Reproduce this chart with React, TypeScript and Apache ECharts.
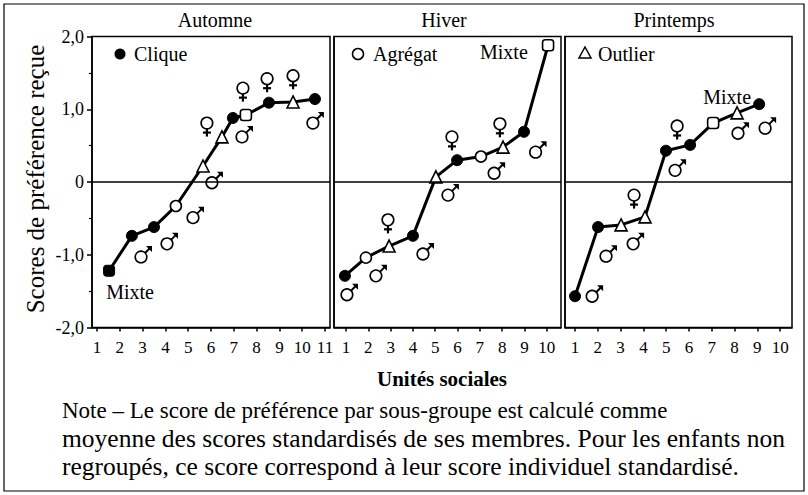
import React, { useEffect, useRef } from 'react';
import * as echarts from 'echarts';

const FONT = '"Liberation Serif", "Times New Roman", serif';

const panelTitles = ['Automne', 'Hiver', 'Printemps'];
const legendLabels = ['Clique', 'Agrégat', 'Outlier'];
const mixteText = 'Mixte';
const yAxisTitle = 'Scores de préférence reçue';
const xAxisTitle = 'Unités sociales';
const noteLines = [
  'Note – Le score de préférence par sous-groupe est calculé comme',
  'moyenne des scores standardisés de ses membres. Pour les enfants non',
  'regroupés, ce score correspond à leur score individuel standardisé.',
];

const xTicksAutumn = [1, 2, 3, 4, 5, 6, 7, 8, 9, 10, 11];
const xTicksWinter = [1, 2, 3, 4, 5, 6, 7, 8, 9, 10];
const xTicksSpring = [1, 2, 3, 4, 5, 6, 7, 8, 9, 10];

// kinds: C = clique, A = agrégat, O = outlier, MC = mixte clique, MA = mixte agrégat
const autumnX = [1.53, 2.53, 3.5, 4.46, 5.65, 6.48, 6.96, 7.53, 8.54, 9.6, 10.56];
const autumnY = [-1.22, -0.74, -0.62, -0.33, 0.22, 0.62, 0.88, 0.92, 1.09, 1.1, 1.14];
const autumnKind = ['MC', 'C', 'C', 'A', 'O', 'O', 'C', 'MA', 'C', 'O', 'C'];
const autumnFemale = [[5.82, 0.81], [7.4, 1.29], [8.46, 1.42], [9.6, 1.46]];
const autumnMale = [[2.93, -1.03], [4.07, -0.85], [5.21, -0.49], [6.04, -0.01], [7.36, 0.62], [10.47, 0.81]];

const winterX = [0.95, 1.89, 2.93, 4.0, 5.03, 5.98, 7.05, 8.04, 8.98, 10.06];
const winterY = [-1.29, -1.04, -0.88, -0.74, 0.07, 0.3, 0.35, 0.48, 0.69, 1.88];
const winterKind = ['C', 'A', 'O', 'C', 'O', 'C', 'A', 'O', 'C', 'MA'];
const winterFemale = [[2.88, -0.52], [5.75, 0.62], [7.9, 0.8]];
const winterMale = [[1.04, -1.55], [2.34, -1.29], [4.45, -0.99], [5.57, -0.18], [7.64, 0.12], [9.5, 0.41]];

const springX = [1.0, 2.01, 3.02, 4.07, 4.99, 6.05, 7.06, 8.11, 9.08];
const springY = [-1.57, -0.62, -0.59, -0.48, 0.43, 0.51, 0.81, 0.95, 1.07];
const springKind = ['C', 'C', 'O', 'O', 'C', 'C', 'MA', 'O', 'C'];
const springFemale = [[3.59, -0.18], [5.48, 0.77]];
const springMale = [[1.75, -1.57], [2.36, -1.02], [3.55, -0.85], [5.39, 0.16], [8.15, 0.67], [9.34, 0.74]];

const markerStyle = (kind: string) => {
  const filled = kind === 'C' || kind === 'MC';
  const symbol = kind === 'O' ? 'triangle' : kind.startsWith('M') ? 'roundRect' : 'circle';
  return {
    symbol,
    symbolSize: kind === 'O' ? 12 : 11,
    itemStyle: filled
      ? { color: '#000', borderColor: '#000', borderWidth: 1 }
      : { color: '#fff', borderColor: '#000', borderWidth: 1.6 },
  };
};

const maleRender = (params: any, api: any) => {
  const [cx, cy] = api.coord([api.value(0), api.value(1)]);
  return {
    type: 'group',
    children: [
      { type: 'line', shape: { x1: cx + 3.5, y1: cy - 3.5, x2: cx + 9.5, y2: cy - 9.5 }, style: { stroke: '#000', lineWidth: 2 } },
      { type: 'polygon', shape: { points: [[cx + 11, cy - 11], [cx + 5, cy - 11], [cx + 11, cy - 5]] }, style: { fill: '#000' } },
      { type: 'circle', shape: { cx, cy, r: 5.8 }, style: { fill: '#fff', stroke: '#000', lineWidth: 1.6 } },
    ],
  };
};

const femaleRender = (params: any, api: any) => {
  const [cx, cy] = api.coord([api.value(0), api.value(1)]);
  return {
    type: 'group',
    children: [
      { type: 'line', shape: { x1: cx, y1: cy + 5, x2: cx, y2: cy + 13.5 }, style: { stroke: '#000', lineWidth: 2.2 } },
      { type: 'line', shape: { x1: cx - 4, y1: cy + 9.5, x2: cx + 4, y2: cy + 9.5 }, style: { stroke: '#000', lineWidth: 2.2 } },
      { type: 'circle', shape: { cx, cy, r: 5.8 }, style: { fill: '#fff', stroke: '#000', lineWidth: 1.6 } },
    ],
  };
};

const mixteLabel = (pos: string, offset: number[]) => ({
  show: true,
  position: pos,
  offset,
  formatter: mixteText,
  color: '#000',
  fontFamily: FONT,
  fontSize: 20,
});

const lineSeries = (xs: number[], ys: number[], kinds: string[], idx: number, labels: Record<number, any>) => ({
  type: 'line',
  xAxisIndex: idx,
  yAxisIndex: idx,
  z: 3,
  lineStyle: { color: '#000', width: 3 },
  itemStyle: { color: '#000' },
  emphasis: { disabled: true },
  data: xs.map((x, i) => ({
    value: [x, ys[i]],
    ...markerStyle(kinds[i]),
    ...(labels[i] ? { label: labels[i] } : {}),
  })),
  markLine: {
    silent: true,
    symbol: ['none', 'none'],
    label: { show: false },
    lineStyle: { color: '#000', width: 1.5, type: 'solid' },
    data: [{ yAxis: 0 }],
  },
});

const genderSeries = (data: number[][], idx: number, male: boolean) => ({
  type: 'custom',
  xAxisIndex: idx,
  yAxisIndex: idx,
  z: 4,
  clip: false,
  silent: true,
  renderItem: male ? maleRender : femaleRender,
  encode: { x: 0, y: 1 },
  data,
});

const xAxisOf = (idx: number, min: number, max: number, ticks: number[]) => ({
  type: 'value',
  gridIndex: idx,
  min,
  max,
  axisLine: { show: true, onZero: false, lineStyle: { color: '#000', width: 1.5 } },
  axisTick: { show: true, length: 4, customValues: ticks, lineStyle: { color: '#000', width: 1.5 } },
  axisLabel: { show: true, customValues: ticks, margin: 11, color: '#000', fontFamily: FONT, fontSize: 17 },
  splitLine: { show: false },
});

const yAxisOf = (idx: number, withLabels: boolean) => ({
  type: 'value',
  gridIndex: idx,
  min: -2,
  max: 2,
  interval: 1,
  axisLine: { show: true, lineStyle: { color: '#000', width: 1.5 } },
  axisTick: { show: withLabels, length: 5, lineStyle: { color: '#000', width: 1.5 } },
  minorTick: { show: withLabels, splitNumber: 2, length: 3, lineStyle: { color: '#000', width: 1.2 } },
  axisLabel: {
    show: withLabels,
    margin: 8,
    color: '#000',
    fontFamily: FONT,
    fontSize: 18,
    formatter: (v: number) => (v === 0 ? '0' : v.toFixed(1).replace('.', ',')),
  },
  splitLine: { show: false },
});

const textEl = (text: string, x: number, y: number, size: number, extra: any = {}) => ({
  type: 'text',
  x,
  y,
  silent: true,
  style: {
    text,
    fill: '#000',
    fontFamily: FONT,
    fontSize: size,
    align: 'center',
    verticalAlign: 'middle',
    ...extra,
  },
});

export default function App() {
  const ref = useRef<HTMLDivElement>(null);

  useEffect(() => {
    if (!ref.current) return;
    const chart = echarts.init(ref.current, undefined, { renderer: 'svg' });
    const gridStyle = { show: true, borderColor: '#000', borderWidth: 1.5, backgroundColor: 'transparent' };
    const option: any = {
      animation: false,
      backgroundColor: '#fff',
      grid: [
        { left: 92, top: 36.5, width: 238, height: 291, ...gridStyle },
        { left: 334, top: 36.5, width: 227, height: 291, ...gridStyle },
        { left: 565, top: 36.5, width: 227, height: 291, ...gridStyle },
      ],
      xAxis: [
        xAxisOf(0, 0.78, 11.22, xTicksAutumn),
        xAxisOf(1, 0.46, 10.64, xTicksWinter),
        xAxisOf(2, 0.56, 10.52, xTicksSpring),
      ],
      yAxis: [yAxisOf(0, true), yAxisOf(1, false), yAxisOf(2, false)],
      series: [
        lineSeries(autumnX, autumnY, autumnKind, 0, { 0: mixteLabel('bottom', [21, 0]) }),
        lineSeries(winterX, winterY, winterKind, 1, { 9: mixteLabel('left', [-9, 7]) }),
        lineSeries(springX, springY, springKind, 2, { 6: mixteLabel('top', [14, -5]) }),
        genderSeries(autumnFemale, 0, false),
        genderSeries(autumnMale, 0, true),
        genderSeries(winterFemale, 1, false),
        genderSeries(winterMale, 1, true),
        genderSeries(springFemale, 2, false),
        genderSeries(springMale, 2, true),
      ],
      graphic: [
        {
          type: 'rect',
          silent: true,
          shape: { x: 4, y: 4, width: 800, height: 487 },
          style: { fill: 'none', stroke: '#000', lineWidth: 1.2 },
        },
        textEl(panelTitles[0], 215, 20, 20),
        textEl(panelTitles[1], 444, 20, 20),
        textEl(panelTitles[2], 674, 20, 20),
        { type: 'circle', silent: true, shape: { cx: 120, cy: 54, r: 5.5 }, style: { fill: '#000' } },
        textEl(legendLabels[0], 134, 54, 20, { align: 'left' }),
        { type: 'circle', silent: true, shape: { cx: 358, cy: 54, r: 5.5 }, style: { fill: '#fff', stroke: '#000', lineWidth: 1.5 } },
        textEl(legendLabels[1], 373, 54, 20, { align: 'left' }),
        {
          type: 'polygon',
          silent: true,
          shape: { points: [[585, 47], [591, 58], [579, 58]] },
          style: { fill: '#fff', stroke: '#000', lineWidth: 1.5 },
        },
        textEl(legendLabels[2], 598, 54, 20, { align: 'left' }),
        { ...textEl(yAxisTitle, 35, 179, 25), rotation: Math.PI / 2 },
        textEl(xAxisTitle, 442, 379, 21, { fontWeight: 'bold' }),
        textEl(noteLines[0], 62, 410, 23, { align: 'left' }),
        textEl(noteLines[1], 62, 438, 25.5, { align: 'left' }),
        textEl(noteLines[2], 62, 466, 25.5, { align: 'left' }),
      ],
    };
    chart.setOption(option);
    return () => chart.dispose();
  }, []);

  return <div ref={ref} style={{ position: 'absolute', left: 0, top: 0, width: 808, height: 495 }} />;
}
